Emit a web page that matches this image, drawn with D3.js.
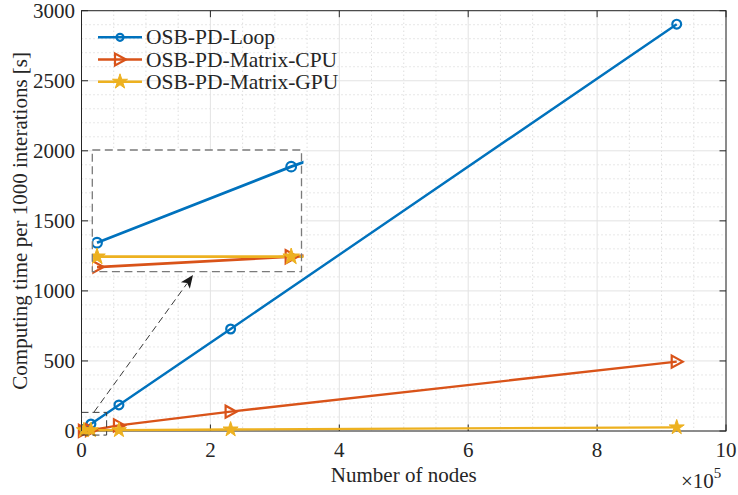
<!DOCTYPE html>
<html><head><meta charset="utf-8">
<script src="https://cdn.jsdelivr.net/npm/d3@7/dist/d3.min.js"></script>
<style>
body{margin:0;background:#fff;}
svg{display:block;}
text{font-family:"Liberation Serif","Times New Roman",serif;fill:#262626;}
</style></head>
<body><svg id="c" width="738" height="495"></svg>
<script>
// ---- data ----
const nodes = [3721, 14641, 58081, 231361, 923521];
const loopTime = [12.5, 50, 186, 728, 2904];
const cpuTime  = [0.5, 5.6, 40, 138, 495];
const gpuTime  = [5.6, 5.6, 6, 11, 26];
const seriesNames = ["OSB-PD-Loop", "OSB-PD-Matrix-CPU", "OSB-PD-Matrix-GPU"];
const xTicks = [0, 2e5, 4e5, 6e5, 8e5, 10e5];
const yTicks = [0, 500, 1000, 1500, 2000, 2500, 3000];
const xTickLabels = ["0", "2", "4", "6", "8", "10"];

const colors = ["#0072BD", "#D95319", "#EDB120"];
const series = [loopTime, cpuTime, gpuTime].map((v, i) => ({
  name: seriesNames[i], color: colors[i], marker: ["circle", "tri", "star"][i],
  pts: nodes.map((n, j) => [n, v[j]])
}));

const svg = d3.select("#c");
const L = 81.5, R = 726, T = 10.7, B = 431;
const x = d3.scaleLinear().domain([0, 10e5]).range([L, R]);
const y = d3.scaleLinear().domain([0, 3000]).range([B, T]);
const axisCol = "#262626";
const FS = 21;

// grid
const g = svg.append("g");
const xMinor = d3.range(0, 10e5 + 1, 0.5e5).filter(v => v % 2e5 !== 0);
const yMinor = d3.range(0, 3001, 100).filter(v => v % 500 !== 0);
g.selectAll(".xm").data(xMinor).join("line").attr("x1", d => x(d)).attr("x2", d => x(d))
  .attr("y1", T).attr("y2", B).attr("stroke", "#cfcfcf").attr("stroke-width", 1).attr("stroke-dasharray", "1,3");
g.selectAll(".ym").data(yMinor).join("line").attr("y1", d => y(d)).attr("y2", d => y(d))
  .attr("x1", L).attr("x2", R).attr("stroke", "#cfcfcf").attr("stroke-width", 1).attr("stroke-dasharray", "1,3");
g.selectAll(".xg").data(xTicks).join("line").attr("x1", d => x(d)).attr("x2", d => x(d))
  .attr("y1", T).attr("y2", B).attr("stroke", "#e3e3e3").attr("stroke-width", 1);
g.selectAll(".yg").data(yTicks).join("line").attr("y1", d => y(d)).attr("y2", d => y(d))
  .attr("x1", L).attr("x2", R).attr("stroke", "#e3e3e3").attr("stroke-width", 1);

// markers
function drawMarker(sel, type, color, scale) {
  const s = scale || 1;
  if (type === "circle") {
    sel.append("circle").attr("r", 4.4 * s).attr("fill", "none").attr("stroke", color).attr("stroke-width", 2.2);
  } else if (type === "tri") {
    sel.append("path").attr("d", `M${6*s},0 L${-5*s},${-6*s} L${-5*s},${6*s} Z`)
      .attr("fill", "none").attr("stroke", color).attr("stroke-width", 2.2).attr("stroke-linejoin", "miter");
  } else {
    sel.append("path").attr("d", d3.symbol(d3.symbolStar, 70 * s * s)())
      .attr("fill", color).attr("stroke", color).attr("stroke-width", 1);
  }
}

function drawSeries(parent, xs, ys, lw, ms) {
  const line = d3.line().x(d => xs(d[0])).y(d => ys(d[1]));
  series.forEach(s => {
    parent.append("path").datum(s.pts).attr("d", line).attr("fill", "none")
      .attr("stroke", s.color).attr("stroke-width", lw).attr("stroke-linejoin", "round");
  });
  series.forEach(s => {
    parent.selectAll(null).data(s.pts).join("g")
      .attr("transform", d => `translate(${xs(d[0])},${ys(d[1])})`)
      .each(function () { drawMarker(d3.select(this), s.marker, s.color, ms); });
  });
}

// axes box and ticks
const ax = svg.append("g");
ax.append("rect").attr("x", L).attr("y", T).attr("width", R - L).attr("height", B - T)
  .attr("fill", "none").attr("stroke", axisCol).attr("stroke-width", 1);
const tl = 6.5;
xTicks.forEach(v => {
  ax.append("line").attr("x1", x(v)).attr("x2", x(v)).attr("y1", B).attr("y2", B - tl).attr("stroke", axisCol);
  ax.append("line").attr("x1", x(v)).attr("x2", x(v)).attr("y1", T).attr("y2", T + tl).attr("stroke", axisCol);
});
yTicks.forEach(v => {
  ax.append("line").attr("y1", y(v)).attr("y2", y(v)).attr("x1", L).attr("x2", L + tl).attr("stroke", axisCol);
  ax.append("line").attr("y1", y(v)).attr("y2", y(v)).attr("x1", R).attr("x2", R - tl).attr("stroke", axisCol);
});
ax.selectAll(".xl").data(xTicks).join("text").attr("x", d => x(d)).attr("y", 456.5)
  .attr("text-anchor", "middle").attr("font-size", FS).text((d, i) => xTickLabels[i]);
ax.selectAll(".yl").data(yTicks).join("text").attr("x", L - 6.5).attr("y", d => y(d) + 7)
  .attr("text-anchor", "end").attr("font-size", FS).text(d => d);

// exponent label
const ex = ax.append("text").attr("x", 681).attr("y", 487.5).attr("font-size", FS);
ex.append("tspan").text("\u00d710");
ex.append("tspan").attr("font-size", 15).attr("dy", -10).text("5");

// axis labels
svg.append("text").attr("x", x(5e5)).attr("y", 482).attr("text-anchor", "middle")
  .attr("font-size", FS).text("Number of nodes");
svg.append("text").attr("transform", `translate(27,${(T + B) / 2}) rotate(-90)`)
  .attr("text-anchor", "middle").attr("font-size", FS).text("Computing time per 1000 interations [s]");

// main data
const main = svg.append("g");
drawSeries(main, x, y, 2.4, 1);

// zoom rectangle in main axes (data coords)
const zx0 = 0, zx1 = 0.39e5, zy0 = -29, zy1 = 133;
svg.append("rect").attr("x", x(zx0)).attr("y", y(zy1)).attr("width", x(zx1) - x(zx0))
  .attr("height", y(zy0) - y(zy1)).attr("fill", "none").attr("stroke", "#3a3a3a")
  .attr("stroke-width", 1).attr("stroke-dasharray", "7,4");

// arrow
const ax0 = 94, ay0 = 412, ax1 = 193, ay1 = 275;
svg.append("line").attr("x1", ax0).attr("y1", ay0).attr("x2", ax1 - 6).attr("y2", ay1 + 8.5)
  .attr("stroke", "#3a3a3a").attr("stroke-width", 1).attr("stroke-dasharray", "7,4");
{
  const ang = Math.atan2(ay1 - ay0, ax1 - ax0);
  const hl = 13, hw = 5.5;
  const bx = ax1 - hl * Math.cos(ang), by = ay1 - hl * Math.sin(ang);
  const px = -Math.sin(ang) * hw, py = Math.cos(ang) * hw;
  svg.append("path").attr("d", `M${ax1},${ay1} L${bx + px},${by + py} L${bx + 3 * Math.cos(ang)},${by + 3 * Math.sin(ang)} L${bx - px},${by - py} Z`)
    .attr("fill", "#1a1a1a");
}

// inset
const iL = 92.3, iR = 302.5, iT = 150, iB = 271.7;
const xi = d3.scaleLinear().domain([3456, 15278]).range([iL, iR]);
const yi = d3.scaleLinear().domain([-1.8, 58.2]).range([iB, iT]);
svg.append("rect").attr("x", iL).attr("y", iT).attr("width", iR - iL).attr("height", iB - iT).attr("fill", "#fff");
svg.append("clipPath").attr("id", "ic").append("rect").attr("x", iL).attr("y", iT - 10)
  .attr("width", iR - iL + 1).attr("height", iB - iT + 20);
const ins = svg.append("g").attr("clip-path", "url(#ic)");
drawSeries(ins, xi, yi, 2.8, 1.1);
svg.append("rect").attr("x", iL).attr("y", iT).attr("width", iR - iL - 1).attr("height", iB - iT)
  .attr("fill", "none").attr("stroke", "#7a7a7a").attr("stroke-width", 1.3).attr("stroke-dasharray", "8,4.5");

// legend
const lg = svg.append("g");
series.forEach((s, i) => {
  const ly = 37.3 + i * 22.2;
  lg.append("line").attr("x1", 98).attr("x2", 142).attr("y1", ly).attr("y2", ly)
    .attr("stroke", s.color).attr("stroke-width", 2.4);
  const m = lg.append("g").attr("transform", `translate(120,${ly})`);
  drawMarker(m, s.marker, s.color, i === 0 ? 0.8 : 1);
  lg.append("text").attr("x", 146).attr("y", ly + 7).attr("font-size", FS + 0.5).text(s.name);
});
</script></body></html>
